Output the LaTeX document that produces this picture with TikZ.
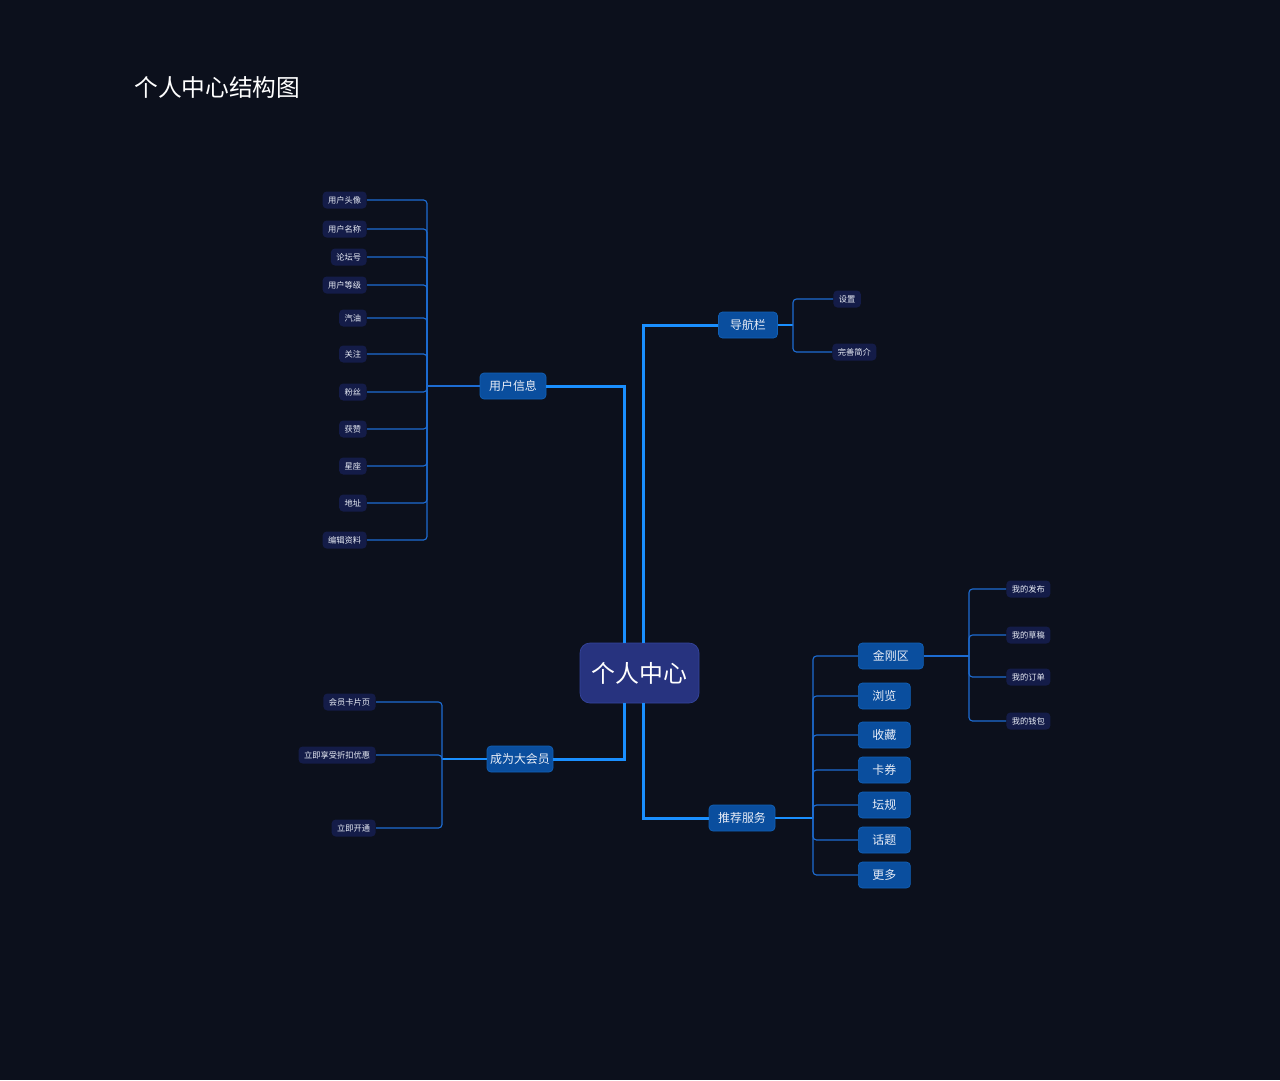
\documentclass[tikz,border=0pt]{standalone}
\usepackage{fontspec}
\setmainfont{Noto Sans CJK SC}
\usepackage{tikz}
\usetikzlibrary{positioning}
\definecolor{bgdark}{HTML}{0C101C}
\definecolor{rootfill}{HTML}{27337F}
\definecolor{rootline}{HTML}{34449C}
\definecolor{branchfill}{HTML}{0A4E9E}
\definecolor{branchline}{HTML}{1160B6}
\definecolor{leaffill}{HTML}{141C48}
\definecolor{labeltext}{HTML}{EAEEF7}
\definecolor{trunkblue}{HTML}{1A8FFF}
\definecolor{twigblue}{HTML}{1D6CD2}

\begin{document}
\begin{tikzpicture}[
        x=0.02cm, y=-0.02cm,
        root/.style={rectangle, draw=rootline, fill=rootfill, rounded corners=0.2cm, minimum width=2.38cm, minimum height=1.2cm, text=white, font=\fontsize{13.6}{16}\selectfont},
        branch/.style={rectangle, draw=branchline, fill=branchfill, rounded corners=0.08cm, minimum height=0.52cm, inner xsep=0.06cm, inner ysep=0pt, text=labeltext, font=\fontsize{6.8}{8}\selectfont},
        leaf/.style={rectangle, fill=leaffill, rounded corners=0.08cm, minimum height=0.34cm, inner xsep=0.11cm, inner ysep=0pt, text=labeltext, font=\fontsize{4.7}{6}\selectfont},
        trunk/.style={line width=1.7pt, draw=trunkblue},
        stem/.style={line width=1.1pt, draw=trunkblue},
        twig/.style={line width=0.65pt, draw=twigblue, rounded corners=0.07cm}
    ]

    \fill[bgdark] (0,0) rectangle (1280,1080);

    % Title
    \node[anchor=west, text=white, font=\fontsize{13.5}{16}\selectfont, inner sep=0pt] (title) at (134,87) {个人中心结构图};

    % Nodes
    \node[root] (root) at (639.5,673) {个人中心};

    \node[branch, minimum width=1.32cm] (info) at (513,386) {用户信息};
    \node[branch, minimum width=1.18cm] (nav) at (748,325) {导航栏};
    \node[branch, minimum width=1.32cm] (vip) at (520,759) {成为大会员};
    \node[branch, minimum width=1.32cm] (rec) at (742,818) {推荐服务};

    % Hubs
    \coordinate (infoHub) at (427,386);
    \coordinate (navHub) at (793,325);
    \coordinate (vipHub) at (442,759);
    \coordinate (recHub) at (813,818);
    \coordinate (jgqHub) at (969,656);

    % Main branches
    \draw[trunk] ([xshift=-0.31cm]root.north) |- (info.east);
    \draw[trunk] ([xshift=0.07cm]root.north) |- (nav.west);
    \draw[trunk] ([xshift=-0.31cm]root.south) |- (vip.east);
    \draw[trunk] ([xshift=0.07cm]root.south) |- (rec.west);

    % User info leaves
    \node[leaf, anchor=east] (avatar) at (367,200) {用户头像};
    \node[leaf, anchor=east] (uname) at (367,229) {用户名称};
    \node[leaf, anchor=east] (forumid) at (367,257) {论坛号};
    \node[leaf, anchor=east] (level) at (367,285) {用户等级};
    \node[leaf, anchor=east] (gas) at (367,318) {汽油};
    \node[leaf, anchor=east] (follow) at (367,354) {关注};
    \node[leaf, anchor=east] (fans) at (367,392) {粉丝};
    \node[leaf, anchor=east] (likes) at (367,429) {获赞};
    \node[leaf, anchor=east] (zodiac) at (367,466) {星座};
    \node[leaf, anchor=east] (addr) at (367,503) {地址};
    \node[leaf, anchor=east] (edit) at (367,540) {编辑资料};

    \draw[twig] (info.west) -- (infoHub);
    \draw[twig] (avatar.east) -| (infoHub);
    \draw[twig] (uname.east) -| (infoHub);
    \draw[twig] (forumid.east) -| (infoHub);
    \draw[twig] (level.east) -| (infoHub);
    \draw[twig] (gas.east) -| (infoHub);
    \draw[twig] (follow.east) -| (infoHub);
    \draw[twig] (fans.east) -| (infoHub);
    \draw[twig] (likes.east) -| (infoHub);
    \draw[twig] (zodiac.east) -| (infoHub);
    \draw[twig] (addr.east) -| (infoHub);
    \draw[twig] (edit.east) -| (infoHub);

    % Nav bar leaves
    \node[leaf, anchor=west] (settings) at (833,299) {设置};
    \node[leaf, anchor=west] (profile) at (832,352) {完善简介};

    \draw[stem] (nav.east) -- (navHub);
    \draw[twig] (settings.west) -| (navHub);
    \draw[twig] (profile.west) -| (navHub);

    % Membership leaves
    \node[leaf, anchor=east] (card) at (376,702) {会员卡片页};
    \node[leaf, anchor=east] (discount) at (376,755) {立即享受折扣优惠};
    \node[leaf, anchor=east] (open) at (376,828) {立即开通};

    \draw[stem] (vip.west) -- (vipHub);
    \draw[twig] (card.east) -| (vipHub);
    \draw[twig] (discount.east) -| (vipHub);
    \draw[twig] (open.east) -| (vipHub);

    % Recommended services
    \node[branch, anchor=west, minimum width=1.3cm] (jgq) at (858,656) {金刚区};
    \node[branch, anchor=west, minimum width=1.04cm] (browse) at (858,696) {浏览};
    \node[branch, anchor=west, minimum width=1.04cm] (fav) at (858,735) {收藏};
    \node[branch, anchor=west, minimum width=1.04cm] (coupon) at (858,770) {卡券};
    \node[branch, anchor=west, minimum width=1.04cm] (rules) at (858,805) {坛规};
    \node[branch, anchor=west, minimum width=1.04cm] (topic) at (858,840) {话题};
    \node[branch, anchor=west, minimum width=1.04cm] (more) at (858,875) {更多};

    \draw[stem] (rec.east) -- (recHub);
    \draw[twig] (jgq.west) -| (recHub);
    \draw[twig] (browse.west) -| (recHub);
    \draw[twig] (fav.west) -| (recHub);
    \draw[twig] (coupon.west) -| (recHub);
    \draw[twig] (rules.west) -| (recHub);
    \draw[twig] (topic.west) -| (recHub);
    \draw[twig] (more.west) -| (recHub);

    % Quick-access leaves
    \node[leaf, anchor=west] (posts) at (1006,589) {我的发布};
    \node[leaf, anchor=west] (drafts) at (1006,635) {我的草稿};
    \node[leaf, anchor=west] (orders) at (1006,677) {我的订单};
    \node[leaf, anchor=west] (wallet) at (1006,721) {我的钱包};

    \draw[twig] (jgq.east) -- (jgqHub);
    \draw[twig] (posts.west) -| (jgqHub);
    \draw[twig] (drafts.west) -| (jgqHub);
    \draw[twig] (orders.west) -| (jgqHub);
    \draw[twig] (wallet.west) -| (jgqHub);

\end{tikzpicture}
\end{document}
